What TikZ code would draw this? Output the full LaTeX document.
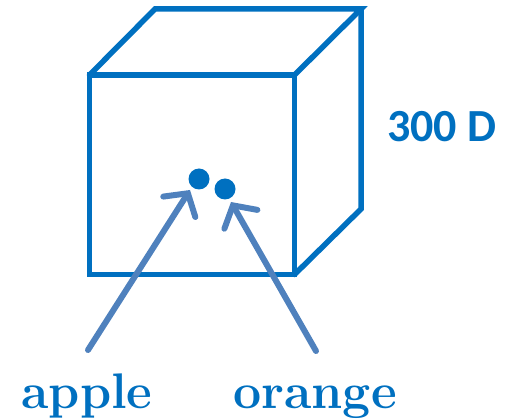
\documentclass[tikz,border=0pt]{standalone}
\usepackage{fontspec}
\newfontfamily\calibrifont{Carlito}
\usetikzlibrary{arrows.meta}
\definecolor{cubeblue}{HTML}{0070C0}
\definecolor{arrowblue}{HTML}{4F81BD}

\begin{document}
\begin{tikzpicture}[x=1pt, y=-1pt, line cap=round, line join=miter,
    cube/.style={draw=cubeblue, line width=5.5pt},
    pointer/.style={draw=arrowblue, line width=6pt, line cap=round,
      -{Straight Barb[length=16pt, width=38pt, line cap=round]}},
    fruit/.style={font=\fontsize{50}{50}\selectfont\bfseries, text=cubeblue, inner sep=0pt}]
			\useasboundingbox (0,0) rectangle (505,419);
			% cube corners
			\coordinate (fa) at (89.5,75);
			\coordinate (fb) at (294.5,75);
			\coordinate (fc) at (294.5,274.5);
			\coordinate (fd) at (89.5,274.5);
			\coordinate (ba) at (155,9);
			\coordinate (bb) at (361,9);
			\coordinate (bc) at (361,209);
			\draw[cube] (fa) -- (fb) -- (fc) -- (fd) -- cycle;
			\draw[cube] (fa) -- (ba) -- (bb) -- (fb);
			\draw[cube] (bb) -- (bc) -- (fc);
			% the two dots
			\fill[cubeblue] (199,179) circle (10.5) coordinate (appledot);
			\fill[cubeblue] (225,189) circle (10.5) coordinate (orangedot);
			% labels
			\node[fruit, anchor=base] (apple) at (87,408) {apple};
			\node[fruit, anchor=base] (orange) at (315,408) {orange};
			\node[font=\calibrifont\fontsize{46}{46}\selectfont\bfseries, text=cubeblue, anchor=base] (size) at (442,142) {300 D};
			% arrows
			\coordinate (appletail) at (88,350);
			\coordinate (appletip) at (190,190);
			\coordinate (orangetail) at (316,351);
			\coordinate (orangetip) at (231,202);
			\draw[pointer] (appletail) -- (appletip);
			\draw[pointer] (orangetail) -- (orangetip);
		\end{tikzpicture}
\end{document}
